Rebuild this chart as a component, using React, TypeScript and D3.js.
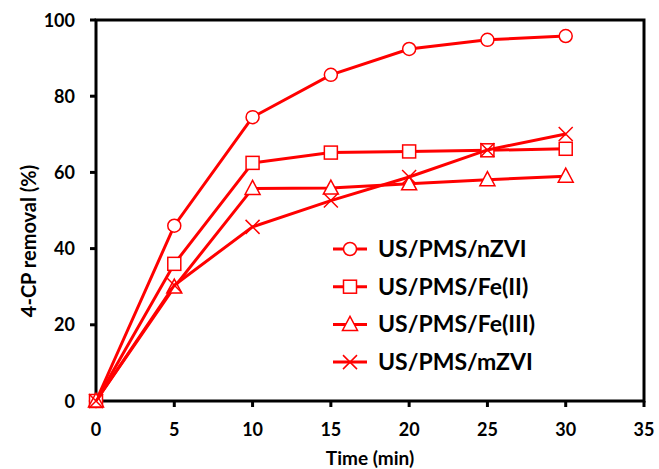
import React from 'react';
import * as d3 from 'd3';

const times = [0, 5, 10, 15, 20, 25, 30];
const nZVI = [0, 46, 74.5, 85.6, 92.4, 94.8, 95.8];
const feII = [0, 36, 62.5, 65.2, 65.5, 65.8, 66.2];
const feIII = [0, 29.9, 55.8, 55.9, 57, 58.1, 59];
const mZVI = [0, 30.4, 45.7, 52.6, 58.8, 65.9, 70.1];
const xTicks = [0, 5, 10, 15, 20, 25, 30, 35];
const yTicks = [0, 20, 40, 60, 80, 100];

const seriesList = [
  { name: 'US/PMS/nZVI', values: nZVI, marker: 'circle' },
  { name: 'US/PMS/Fe(II)', values: feII, marker: 'square' },
  { name: 'US/PMS/Fe(III)', values: feIII, marker: 'triangle' },
  { name: 'US/PMS/mZVI', values: mZVI, marker: 'cross' },
];

const RED = '#ff0000';
const FONT = 'Lato, "Open Sans", sans-serif';

function Marker({ type, x, y }: { type: string; x: number; y: number }) {
  const s = 7;
  if (type === 'circle')
    return <circle cx={x} cy={y} r={6.5} fill="#fff" stroke={RED} strokeWidth={1.5} />;
  if (type === 'square')
    return <rect x={x - 6.5} y={y - 6.5} width={13} height={13} fill="#fff" stroke={RED} strokeWidth={1.5} />;
  if (type === 'triangle')
    return (
      <path
        d={`M${x},${y - s - 1}L${x + s + 0.5},${y + s - 1}L${x - s - 0.5},${y + s - 1}Z`}
        fill="#fff"
        stroke={RED}
        strokeWidth={1.5}
      />
    );
  return (
    <path
      d={`M${x - s},${y - s}L${x + s},${y + s}M${x - s},${y + s}L${x + s},${y - s}`}
      stroke={RED}
      strokeWidth={1.5}
      fill="none"
    />
  );
}

export default function App() {
  const W = 659, H = 469;
  const x = d3.scaleLinear().domain([0, 35]).range([96, 644]);
  const y = d3.scaleLinear().domain([0, 100]).range([401, 20]);
  const line = d3.line<number>().x((_, i) => x(times[i])).y((d) => y(d));

  const legendX = 350, legendY0 = 249, legendDy = 37.7;

  return (
    <svg width={W} height={H} style={{ position: 'absolute', left: 0, top: 0, background: '#fff' }}>
      {/* frame */}
      <rect x={x(0)} y={y(100)} width={x(35) - x(0)} height={y(0) - y(100)} fill="none" stroke="#000" strokeWidth={3} />
      {xTicks.map((t) => (
        <g key={'x' + t}>
          <line x1={x(t)} x2={x(t)} y1={y(0)} y2={y(0) + 6} stroke="#000" strokeWidth={3} />
          <text x={x(t)} y={436} textAnchor="middle" fontFamily={FONT} fontWeight="bold" fontSize={18}>
            {t}
          </text>
        </g>
      ))}
      {yTicks.map((t) => (
        <g key={'y' + t}>
          <line x1={x(0) - 6} x2={x(0)} y1={y(t)} y2={y(t)} stroke="#000" strokeWidth={3} />
          <text x={75} y={y(t) + 6.5} textAnchor="end" fontFamily={FONT} fontWeight="bold" fontSize={18}>
            {t}
          </text>
        </g>
      ))}
      <text x={370} y={465} textAnchor="middle" fontFamily={FONT} fontWeight="bold" fontSize={19}>
        Time (min)
      </text>
      <text
        transform={`translate(36,${y(42)}) rotate(-90)`}
        textAnchor="middle"
        fontFamily={FONT}
        fontWeight="bold"
        fontSize={20}
      >
        4-CP removal (%)
      </text>

      {seriesList.map((s) => (
        <g key={s.name}>
          <path d={line(s.values) || ''} fill="none" stroke={RED} strokeWidth={3} />
          {s.values.map((v, i) => (
            <Marker key={i} type={s.marker} x={x(times[i])} y={y(v)} />
          ))}
        </g>
      ))}

      {seriesList.map((s, i) => {
        const ly = legendY0 + i * legendDy;
        return (
          <g key={'l' + s.name}>
            <line x1={legendX - 17} x2={legendX + 17} y1={ly} y2={ly} stroke={RED} strokeWidth={3} />
            <Marker type={s.marker} x={legendX} y={ly} />
            <text x={legendX + 28} y={ly + 8} fontFamily={FONT} fontWeight="bold" fontSize={23}>
              {s.name}
            </text>
          </g>
        );
      })}
    </svg>
  );
}
